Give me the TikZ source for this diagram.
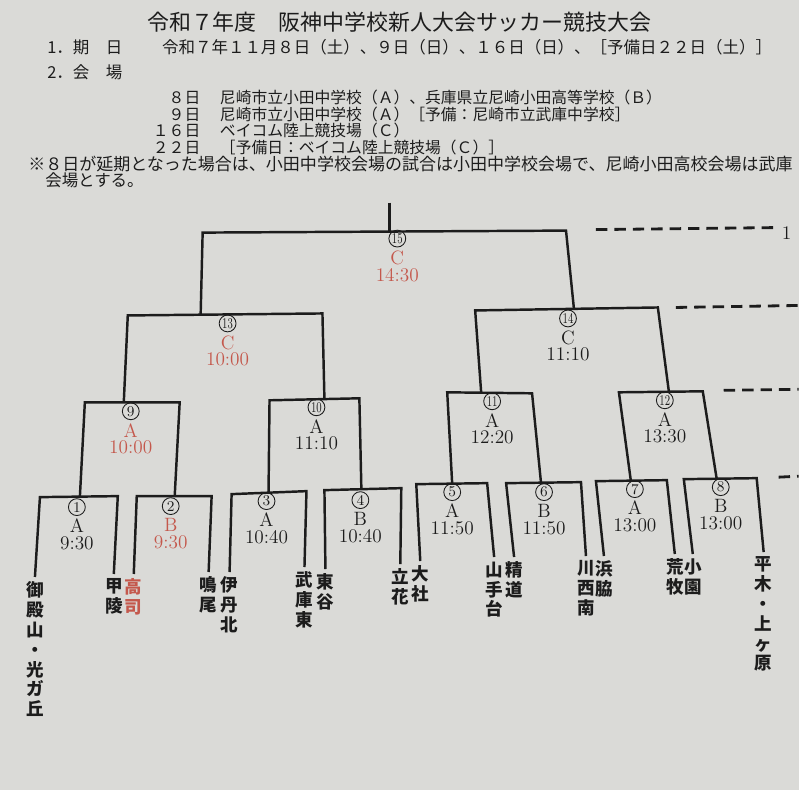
\documentclass[tikz,border=0pt]{standalone}
\usepackage{fontspec}
\newfontfamily\jp{Noto Sans CJK JP}
\definecolor{paper}{RGB}{218,218,215}
\definecolor{ink}{RGB}{28,28,28}
\definecolor{akai}{RGB}{196,88,76}

\begin{document}
\begin{tikzpicture}[x=0.02cm,y=-0.02cm,
        bar/.style={ink,line width=1.4pt,line join=miter},
        kiri/.style={ink,line width=1.6pt,dash pattern=on 6.5pt off 4pt},
        midashi/.style={ink,inner sep=0pt,font=\jp\fontsize{12.5}{14}\selectfont},
        koumoku/.style={ink,inner sep=0pt,anchor=west,font=\jp\fontsize{9.4}{11}\selectfont},
        kaijou/.style={ink,inner sep=0pt,font=\jp\fontsize{9}{10}\selectfont},
        maru/.style={ink,draw,circle,line width=0.5pt,minimum size=9.6pt,inner sep=0pt,
            font=\fontsize{8.5}{9}\selectfont},
        label/.style={inner sep=0pt,align=center,font=\fontsize{11}{9.6}\selectfont},
        team/.style={ink,anchor=north,align=center,inner sep=2.5pt,
            font=\jp\bfseries\fontsize{10}{11.3}\selectfont}]

    \fill[paper] (0,0) rectangle (800,791);

    \node[midashi] (title) at (400,22) {令和７年度　阪神中学校新人大会サッカー競技大会};
    \node[koumoku] (kijitsu) at (47,47) {1．期　日};
    \node[koumoku] (hiduke) at (162,47) {令和７年１１月８日（土）、９日（日）、１６日（日）、［予備日２２日（土）］};
    \node[koumoku] (kaijo) at (47,72) {2．会　場};
    \node[kaijou,anchor=east] (d8) at (201,98) {８日};
    \node[kaijou,anchor=west] (v8) at (220,98) {尼崎市立小田中学校（Ａ）、兵庫県立尼崎小田高等学校（Ｂ）};
    \node[kaijou,anchor=east] (d9) at (201,115) {９日};
    \node[kaijou,anchor=west] (v9) at (220,115) {尼崎市立小田中学校（Ａ）［予備：尼崎市立武庫中学校］};
    \node[kaijou,anchor=east] (d16) at (201,131) {１６日};
    \node[kaijou,anchor=west] (v16) at (220,131) {ベイコム陸上競技場（Ｃ）};
    \node[kaijou,anchor=east] (d22) at (201,148) {２２日};
    \node[kaijou,anchor=west] (v22) at (220,148) {［予備日：ベイコム陸上競技場（Ｃ）］};
    \node[koumoku,font=\jp\fontsize{9.7}{11}\selectfont] (chui) at (28,164)
        {※８日が延期となった場合は、小田中学校会場の試合は小田中学校会場で、尼崎小田高校会場は武庫};
    \node[koumoku,font=\jp\fontsize{9.4}{11}\selectfont] (chui2) at (45,181) {会場とする。};

    \coordinate (top) at (390,203);
    \coordinate (a15) at (203,233); \coordinate (b15) at (567,231); \coordinate (j15) at (390,232);
    \coordinate (a13) at (128,316); \coordinate (b13) at (323,314); \coordinate (j13) at (201,315);
    \coordinate (a14) at (476,311); \coordinate (b14) at (659,308); \coordinate (j14) at (575,310);
    \coordinate (a9) at (85,403);   \coordinate (b9) at (180,403);  \coordinate (j9) at (124,403);
    \coordinate (a10) at (270,401); \coordinate (b10) at (360,399); \coordinate (j10) at (325,400);
    \coordinate (a11) at (448,393); \coordinate (b11) at (533,394); \coordinate (j11) at (482,393);
    \coordinate (a12) at (620,393); \coordinate (b12) at (704,392); \coordinate (j12) at (670,392);
    \coordinate (a1) at (40,498);   \coordinate (b1) at (118,497);  \coordinate (j1) at (80,498);
    \coordinate (a2) at (137,497);  \coordinate (b2) at (212,497);  \coordinate (j2) at (175,497);
    \coordinate (a3) at (232,495);  \coordinate (b3) at (307,492);  \coordinate (j3) at (269,494);
    \coordinate (a4) at (325,491);  \coordinate (b4) at (402,489);  \coordinate (j4) at (362,490);
    \coordinate (a5) at (417,485);  \coordinate (b5) at (488,484);  \coordinate (j5) at (453,485);
    \coordinate (a6) at (507,484);  \coordinate (b6) at (582,483);  \coordinate (j6) at (542,484);
    \coordinate (a7) at (597,482);  \coordinate (b7) at (668,481);  \coordinate (j7) at (632,482);
    \coordinate (a8) at (685,480);  \coordinate (b8) at (758,479);  \coordinate (j8) at (718,480);

    \node[team] (t1) at (35,578) {御\\殿\\山\\・\\光\\ガ\\丘};
    \node[team] (t2) at (114,575) {甲\\陵};
    \node[team,akai] (t3) at (134,575) {高\\司};
    \node[team] (t4) at (209,573) {鳴\\尾};
    \node[team] (t5) at (230,573) {伊\\丹\\北};
    \node[team] (t6) at (305,568) {武\\庫\\東};
    \node[team] (t7) at (326,570) {東\\谷};
    \node[team] (t8) at (401,565) {立\\花};
    \node[team] (t9) at (421,562) {大\\社};
    \node[team] (t10) at (495,558) {山\\手\\台};
    \node[team] (t11) at (515,558) {精\\道};
    \node[team] (t12) at (587,557) {川\\西\\南};
    \node[team] (t13) at (605,557) {浜\\脇};
    \node[team] (t14) at (676,555) {荒\\牧};
    \node[team] (t15) at (694,555) {小\\園};
    \node[team] (t16) at (765,553) {平\\木\\・\\上\\ヶ\\原};

    \draw[bar] (top) -- (j15);
    \draw[bar] (j13) -- (a15) -- (b15) -- (j14);
    \draw[bar] (j9) -- (a13) -- (b13) -- (j10);
    \draw[bar] (j11) -- (a14) -- (b14) -- (j12);
    \draw[bar] (j1) -- (a9) -- (b9) -- (j2);
    \draw[bar] (j3) -- (a10) -- (b10) -- (j4);
    \draw[bar] (j5) -- (a11) -- (b11) -- (j6);
    \draw[bar] (j7) -- (a12) -- (b12) -- (j8);
    \draw[bar] (t1.north) -- (a1) -- (b1) -- (t2.north);
    \draw[bar] (t3.north) -- (a2) -- (b2) -- (t4.north);
    \draw[bar] (t5.north) -- (a3) -- (b3) -- (t6.north);
    \draw[bar] (t7.north) -- (a4) -- (b4) -- (t8.north);
    \draw[bar] (t9.north) -- (a5) -- (b5) -- (t10.north);
    \draw[bar] (t11.north) -- (a6) -- (b6) -- (t12.north);
    \draw[bar] (t13.north) -- (a7) -- (b7) -- (t14.north);
    \draw[bar] (t15.north) -- (a8) -- (b8) -- (t16.north);

    \foreach \x/\y/\c/\v/\t [count=\k] in {
            77/508/ink/A/9:30, 171/507/akai/B/9:30,
            267/502/ink/A/10:40, 361/501/ink/B/10:40,
            453/493/ink/A/11:50, 545/493/ink/B/11:50,
            636/490/ink/A/13:00, 722/488/ink/B/13:00,
            131/412/akai/A/10:00, 317/408/ink/A/11:10,
            493/402/ink/A/12:20, 666/401/ink/A/13:30,
            228/324/akai/C/10:00, 569/319/ink/C/11:10,
            398/239/akai/C/14:30} {
        \node[maru] (n\k) at (\x,\y) {\ifnum\k>9 \scalebox{0.7}[1]{\k}\else\k\fi};
        \node[label,\c] (v\k) at (\x,\y+27.5) {\v\\\t};
    }

    \coordinate (k1a) at (597,230); \coordinate (k1b) at (775,228);
    \coordinate (k2a) at (677,308); \coordinate (k2b) at (800,306);
    \coordinate (k3a) at (725,391); \coordinate (k3b) at (800,390);
    \coordinate (k4a) at (780,478); \coordinate (k4b) at (800,477);
    \draw[kiri] (k1a) -- (k1b);
    \draw[kiri] (k2a) -- (k2b);
    \draw[kiri] (k3a) -- (k3b);
    \draw[kiri] (k4a) -- (k4b);
    \node[label,ink] (ichi) at (788,233) {1};
\end{tikzpicture}
\end{document}
